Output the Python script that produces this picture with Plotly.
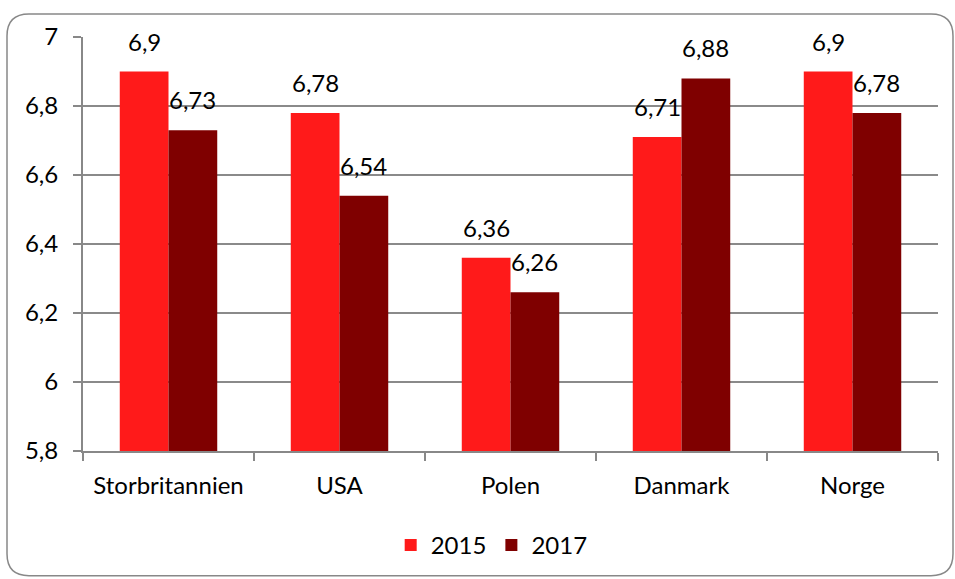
import plotly.graph_objects as go

countries = ['Storbritannien', 'USA', 'Polen', 'Danmark', 'Norge']
years = ['2015', '2017']
values_2015 = [6.9, 6.78, 6.36, 6.71, 6.9]
values_2017 = [6.73, 6.54, 6.26, 6.88, 6.78]
y_ticks = [5.8, 6.0, 6.2, 6.4, 6.6, 6.8, 7.0]

colors = {'2015': '#FF1A1A', '2017': '#7F0000'}
font = 'Lato, Open Sans, sans-serif'


def label(v):
    # excel style decimal comma
    return ('%g' % v).replace('.', ',')


fig = go.Figure()
for year, vals in zip(years, [values_2015, values_2017]):
    fig.add_trace(go.Bar(
        x=countries,
        y=vals,
        name=year,
        marker=dict(color=colors[year], line=dict(width=0)),
    ))

# data labels, lifted a bit above the bars like excel does
for shift, vals in zip([-24.4, 24.4], [values_2015, values_2017]):
    for c, v in zip(countries, vals):
        fig.add_annotation(
            x=c, y=v, text=label(v), showarrow=False,
            xanchor='center', yanchor='bottom',
            xshift=shift, yshift=14,
            font=dict(size=24, color='#000000', family=font),
        )

fig.update_layout(
    width=955,
    height=579,
    barmode='group',
    bargap=0.43,
    bargroupgap=0,
    separators=', ',
    plot_bgcolor='white',
    paper_bgcolor='white',
    margin=dict(l=83, r=17, t=37, b=127),
    font=dict(family=font, size=24, color='#000000'),
    legend=dict(
        orientation='h',
        x=0.478, xanchor='center',
        y=-0.225, yanchor='middle',
        font=dict(size=24),
        itemwidth=30,
    ),
    xaxis=dict(
        showline=True, linecolor='#888888', linewidth=2,
        ticks='outside', tickson='boundaries', ticklen=8,
        tickcolor='#888888', tickwidth=2,
        ticklabelstandoff=12,
        showgrid=False,
    ),
    yaxis=dict(
        range=[5.8, 7.0],
        tickvals=y_ticks,
        ticktext=[label(t) for t in y_ticks],
        showline=True, linecolor='#888888', linewidth=2,
        ticks='outside', ticklen=8, tickcolor='#888888', tickwidth=2,
        ticklabelstandoff=10,
        showgrid=True, gridcolor='#8a8a8a', gridwidth=1.6,
        zeroline=False,
    ),
)


# rounded frame around the chart (pixels converted to paper coords)
def px(x):
    return (x - 83) / 855


def py(y):
    return (452 - y) / 415


x0, x1, y0, y1, r = 7, 953, 14, 577, 22
path = (
    f'M {px(x0 + r)} {py(y0)} L {px(x1 - r)} {py(y0)} '
    f'Q {px(x1)} {py(y0)} {px(x1)} {py(y0 + r)} '
    f'L {px(x1)} {py(y1 - r)} Q {px(x1)} {py(y1)} {px(x1 - r)} {py(y1)} '
    f'L {px(x0 + r)} {py(y1)} Q {px(x0)} {py(y1)} {px(x0)} {py(y1 - r)} '
    f'L {px(x0)} {py(y0 + r)} Q {px(x0)} {py(y0)} {px(x0 + r)} {py(y0)} Z'
)
fig.add_shape(type='path', xref='paper', yref='paper', path=path,
              line=dict(color='#888888', width=1.5), layer='below')

fig.write_html('out.html', config={'displayModeBar': False},
               post_script="document.body.style.margin='0';")
